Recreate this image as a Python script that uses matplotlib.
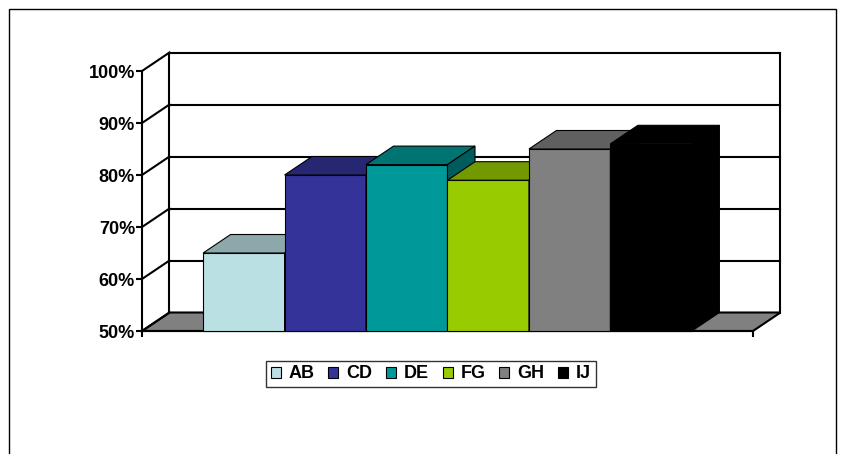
import matplotlib.pyplot as plt
from matplotlib.patches import Polygon, Patch, Rectangle
from matplotlib.colors import to_rgb

plt.rcParams['font.family'] = ['Liberation Sans', 'DejaVu Sans']

# data
series = ["AB", "CD", "DE", "FG", "GH", "IJ"]
values = [65, 80, 82, 79, 85, 86]
colors = ["#BBE0E3", "#333399", "#009999", "#99CC00", "#808080", "#000000"]
y_ticks = [50, 60, 70, 80, 90, 100]

W, H = 845, 454
fig = plt.figure(figsize=(W / 100, H / 100), dpi=100)

# front plane of the 3-D box (pixels)
fx0, fx1, fy0, fy1 = 142, 753, 331, 71
xmax = 7.5  # six bars of width 1 plus gap width 150%
ax = fig.add_axes([fx0 / W, 1 - fy0 / H, (fx1 - fx0) / W, (fy0 - fy1) / H])
ax.set_xlim(0, xmax)
ax.set_ylim(50, 100)

# depth offset of the back wall in data units
dx = 27.5 / ((fx1 - fx0) / xmax)
dy = 18.5 / ((fy0 - fy1) / 50)

for s in ["top", "right"]:
    ax.spines[s].set_visible(False)
ax.spines["left"].set_linewidth(1.5)
ax.spines["bottom"].set_linewidth(1.5)
ax.set_yticks(y_ticks)
ax.set_yticklabels([f"{t}%" for t in y_ticks], fontweight="bold", fontsize=13)
ax.set_xticks([0, xmax])
ax.set_xticklabels([])
ax.tick_params(axis="both", length=4, width=1.5, pad=1)
ax.set_facecolor("none")

lw = 1.5
# floor
ax.add_patch(Polygon([(0, 50), (xmax, 50), (xmax + dx, 50 + dy), (dx, 50 + dy)],
                     closed=True, facecolor="#808080", edgecolor="black",
                     lw=lw, clip_on=False, zorder=1))
# back wall grid and border
for t in y_ticks[1:]:
    ax.plot([dx, xmax + dx], [t + dy, t + dy], color="black", lw=lw,
            clip_on=False, zorder=1.5)
for xb in [dx, xmax + dx]:
    ax.plot([xb, xb], [50 + dy, 100 + dy], color="black", lw=lw,
            clip_on=False, zorder=1.5)
# left wall
for t in y_ticks:
    ax.plot([0, dx], [t, t + dy], color="black", lw=lw, clip_on=False, zorder=1.5)


def shade(c, f):
    r, g, b = to_rgb(c)
    return (r * f, g * f, b * f)


# 3-D columns, drawn left to right
for i, (v, c) in enumerate(zip(values, colors)):
    x0 = 0.75 + i
    x1 = x0 + 1
    z = 3 + i * 0.1
    ax.bar(x0, v - 50, width=1, bottom=50, align="edge", color=c,
           edgecolor="black", lw=0.8, zorder=z, clip_on=False)
    ax.add_patch(Polygon([(x0, v), (x1, v), (x1 + dx, v + dy), (x0 + dx, v + dy)],
                         closed=True, facecolor=shade(c, 0.75), edgecolor="black",
                         lw=0.8, zorder=z, clip_on=False))
    ax.add_patch(Polygon([(x1, 50), (x1, v), (x1 + dx, v + dy), (x1 + dx, 50 + dy)],
                         closed=True, facecolor=shade(c, 0.6), edgecolor="black",
                         lw=0.8, zorder=z, clip_on=False))

# legend
handles = [Patch(facecolor=c, edgecolor="black", lw=0.8) for c in colors]
leg = fig.legend(handles, series, loc="center", bbox_to_anchor=(431 / W, 1 - 374 / H),
                 ncol=6, frameon=True, fancybox=False, edgecolor="black",
                 handlelength=0.55, handleheight=0.55, handletextpad=0.45,
                 columnspacing=0.75, borderpad=0.25,
                 prop={"weight": "bold", "size": 13})
leg.get_frame().set_linewidth(1)

# chart area border
fig.add_artist(Rectangle((9 / W, -0.1), 827 / W, (H - 9) / H + 0.1,
                         transform=fig.transFigure, fill=False,
                         edgecolor="black", lw=1))

fig.savefig("out.png", dpi=100)
